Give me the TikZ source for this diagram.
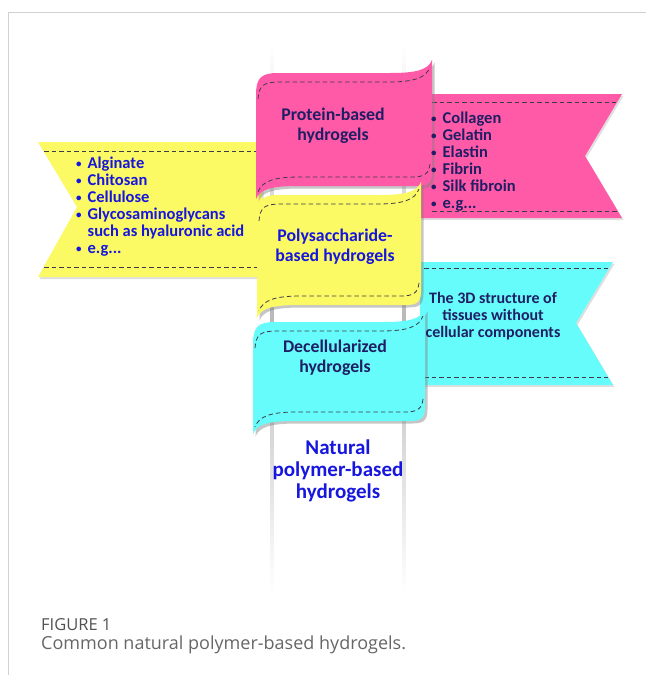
\documentclass[tikz,border=0pt]{standalone}
\usepackage{fontspec}
\setmainfont{Carlito}
\newfontfamily\capfont{Open Sans}
\usetikzlibrary{shadows}
\definecolor{pinkc}{RGB}{255,90,168}
\definecolor{yellowc}{RGB}{251,249,100}
\definecolor{cyanc}{RGB}{102,252,252}
\definecolor{navyc}{RGB}{32,30,100}
\definecolor{bluec}{RGB}{22,22,222}
\definecolor{dashc}{RGB}{60,60,70}
\definecolor{framec}{RGB}{208,208,208}
\newcommand\waveshape[4]{%
 (#1,#2+22) .. controls (#1,#2+5) and (#1+5,#2) .. (#1+22,#2)
 -- (#3-42,#2) .. controls (#3-16,#2) and (#3-4,#2-3) .. (#3,#2-13)
 -- (#3,#4-14) .. controls (#3,#4-3) and (#3-4,#4) .. (#3-15,#4)
 -- (#1+42,#4) .. controls (#1+16,#4) and (#1+4,#4+3) .. (#1,#4+13) -- cycle}
\newcommand\wavedash[4]{%
 \draw[dashline] (#1+2,#2+26) .. controls (#1+3,#2+12) and (#1+8,#2+9) .. (#1+24,#2+9)
   -- (#3-44,#2+9) .. controls (#3-18,#2+9) and (#3-6,#2+5) .. (#3-2,#2-6);
 \draw[dashline] (#3-2,#4-22) .. controls (#3-3,#4-12) and (#3-8,#4-9) .. (#3-20,#4-9)
   -- (#1+44,#4-9) .. controls (#1+18,#4-9) and (#1+6,#4-5) .. (#1+2,#4+6);}
\newcommand\bul{\raisebox{1pt}{\fontsize{11}{11}\selectfont\textbullet}}
\tikzset{
 dashline/.style={draw=dashc, line width=0.8pt, dash pattern=on 4.5pt off 3pt},
 boxshadow/.style={drop shadow={opacity=0.45, shadow xshift=2.5pt, shadow yshift=-2.5pt}},
 ribshadow/.style={drop shadow={opacity=0.25, shadow xshift=1.5pt, shadow yshift=-2pt}},
 boxtext/.style={font=\bfseries\fontsize{17.8}{19.5}\selectfont, align=center, inner sep=0pt},
 listtext/.style={font=\bfseries\fontsize{16.5}{17}\selectfont, inner sep=0pt, anchor=north west},
}
\begin{document}
\begin{tikzpicture}[x=1pt,y=-1pt]
\useasboundingbox (0,0) rectangle (646,675);
% frame
\draw[framec, line width=1pt] (646,12) -- (8,12) -- (8,675);
% pole
\shade[top color=white, bottom color=white, middle color=gray!55] (270.5,43) rectangle (273.5,592);
\shade[top color=white, bottom color=white, middle color=gray!55] (402.5,43) rectangle (405.5,592);
% ribbons
\path[fill=yellowc, ribshadow] (38,142) -- (262,142) -- (262,277) -- (38,277) -- (77,207) -- cycle;
\draw[dashline] (44,151) -- (258,151);
\draw[dashline] (44,267) -- (258,267);
\path[fill=pinkc, ribshadow] (420,94) -- (622,94) -- (585,156) -- (622,218) -- (420,218) -- cycle;
\draw[dashline] (432,102) -- (616,102);
\draw[dashline] (432,211) -- (617,211);
\path[fill=cyanc, ribshadow] (420,262) -- (613,262) -- (576,323) -- (613,385) -- (420,385) -- cycle;
\draw[dashline] (424,268) -- (608,268);
\draw[dashline] (424,377) -- (608,377);
% main boxes
\path[fill=pinkc, boxshadow] \waveshape{256}{73}{432}{186};
\wavedash{256}{73}{432}{186}
\path[fill=yellowc, boxshadow] \waveshape{257}{195}{421}{305};
\wavedash{257}{195}{421}{305}
\path[fill=cyanc, boxshadow] \waveshape{253}{322}{425}{421};
\wavedash{253}{322}{425}{421}
% texts in boxes
\node[boxtext, text=navyc] (protein) at (333,126) {Protein-based\\hydrogels};
\node[boxtext, text=bluec] (poly) at (335,247) {Polysaccharide-\\based hydrogels};
\node[boxtext, text=navyc] (decell) at (335,358) {Decellularized\\hydrogels};
\node[boxtext, text=bluec, font=\bfseries\fontsize{21}{22}\selectfont] (natural) at (338,471) {Natural\\polymer-based\\hydrogels};
% lists
\node[listtext, text=navyc] (plist) at (431,111) {\begin{tabular}{@{}l@{\hspace{6pt}}l@{}}
\bul & Collagen\\ \bul & Gelatin\\ \bul & Elastin\\ \bul & Fibrin\\ \bul & Silk fibroin\\ \bul & e.g...\end{tabular}};
\node[listtext, text=bluec] (ylist) at (76,156) {\begin{tabular}{@{}l@{\hspace{6pt}}l@{}}
\bul & Alginate\\ \bul & Chitosan\\ \bul & Cellulose\\ \bul & Glycosaminoglycans\\ & such as hyaluronic acid\\ \bul & e.g...\end{tabular}};
\node[boxtext, text=navyc, font=\bfseries\fontsize{16}{17}\selectfont] (ctext) at (493,316) {The 3D structure of\\tissues without\\cellular components};
% caption
\node[anchor=west, inner sep=0pt, text=black!68, font=\capfont\fontsize{16.5}{18}\selectfont] (fig) at (41,625) {FIGURE 1};
\node[anchor=west, inner sep=0pt, text=black!60, font=\capfont\fontsize{18}{20}\selectfont] (cap) at (41,645) {Common natural polymer-based hydrogels.};
\end{tikzpicture}
\end{document}
